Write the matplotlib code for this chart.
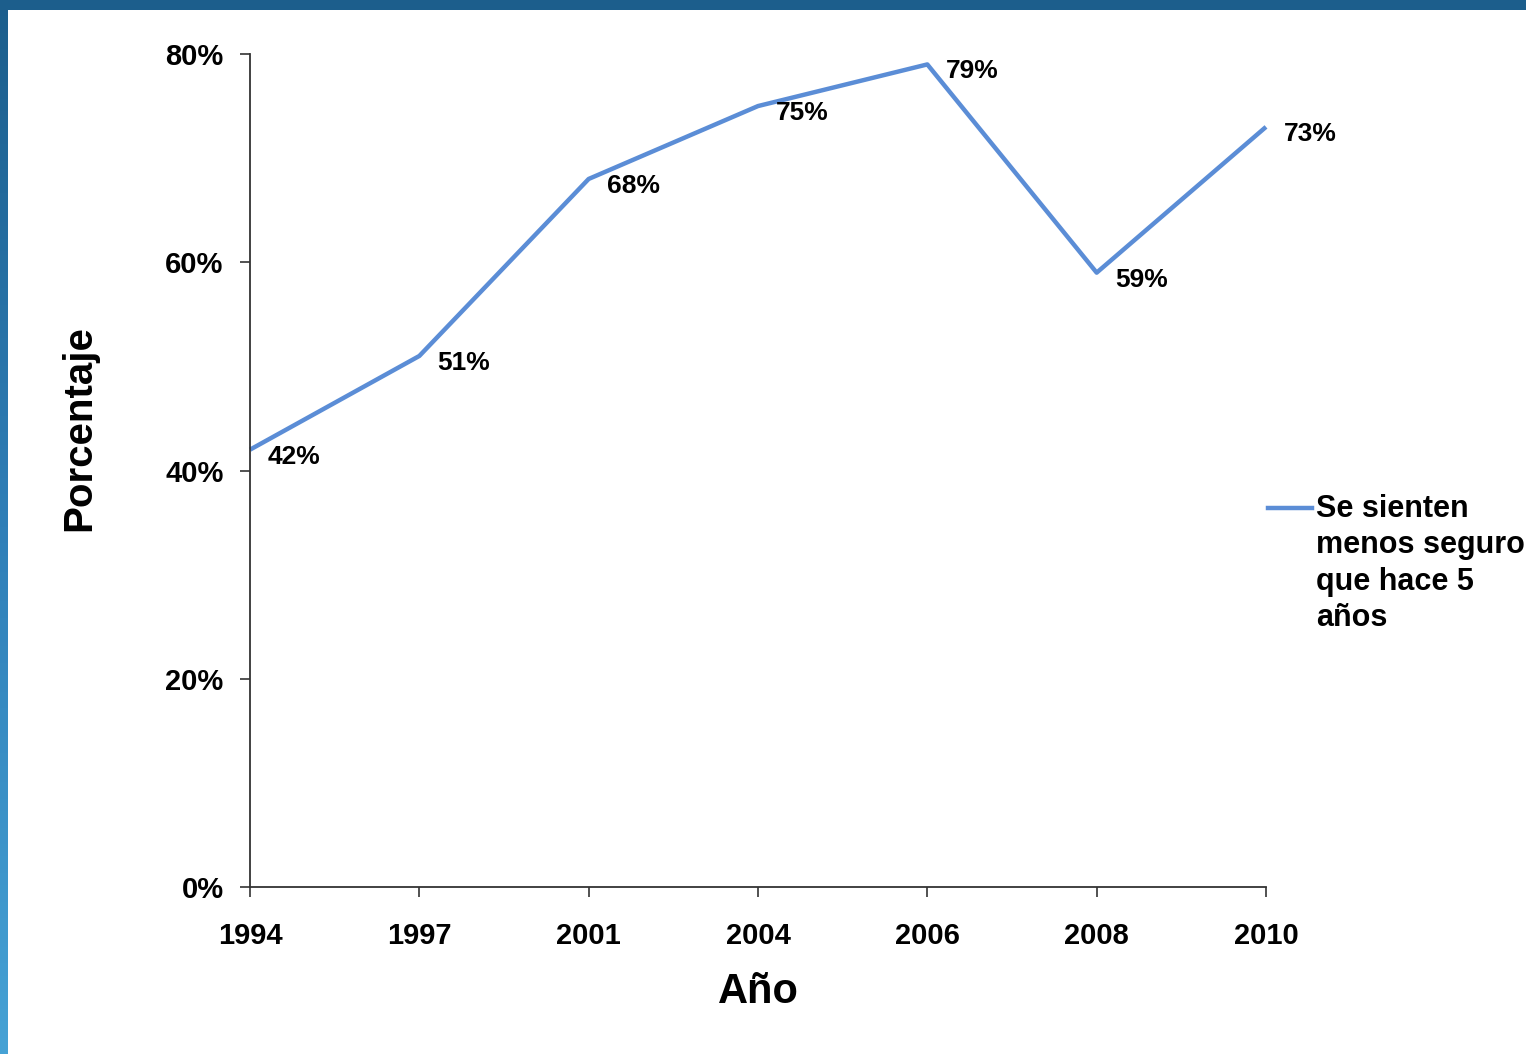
import matplotlib
matplotlib.use("Agg")
import matplotlib.pyplot as plt
import numpy as np
from matplotlib.colors import LinearSegmentedColormap
from matplotlib.ticker import PercentFormatter
from matplotlib.lines import Line2D

years = ["1994", "1997", "2001", "2004", "2006", "2008", "2010"]
values = [0.42, 0.51, 0.68, 0.75, 0.79, 0.59, 0.73]
labels = ["42%", "51%", "68%", "75%", "79%", "59%", "73%"]
series_name = "Se sienten\nmenos seguros\nque hace 5\naños"

plt.rcParams['font.family'] = ['Liberation Sans', 'DejaVu Sans']
plt.rcParams['font.weight'] = 'bold'

fig = plt.figure(figsize=(15.26, 10.54), dpi=100)
fig.patch.set_facecolor('white')

# slide frame: top band and left gradient stripe
top = fig.add_axes([0, 1 - 10 / 1054, 1, 10 / 1054])
top.set_facecolor('#1c5e8c')
top.set_xticks([]); top.set_yticks([])
for s in top.spines.values():
    s.set_visible(False)

left = fig.add_axes([0, 0, 8 / 1526, 1])
grad = np.linspace(0, 1, 256).reshape(-1, 1)
cm = LinearSegmentedColormap.from_list('frame', ['#1c5e8c', '#2f7fb8', '#46a2d5'])
left.imshow(grad, aspect='auto', cmap=cm, origin='upper')
left.axis('off')

ax = fig.add_axes([250 / 1526, 1 - 887 / 1054, (1266 - 250) / 1526, (887 - 54) / 1054])
x = np.arange(len(years))
line, = ax.plot(x, values, color='#5b8dd6', lw=3.2, solid_capstyle='butt',
                label=series_name, clip_on=False)

for xi, v, lab in zip(x, values, labels):
    ax.annotate(lab, (xi, v), xytext=(13, -5), textcoords='offset points',
                ha='left', va='center', fontsize=19, fontweight='bold')

ax.set_xlim(0, len(years) - 1)
ax.set_ylim(0, 0.8)
ax.set_xticks(x)
ax.set_xticklabels(years)
ax.set_yticks([0, 0.2, 0.4, 0.6, 0.8])
ax.yaxis.set_major_formatter(PercentFormatter(1.0, decimals=0))
ax.tick_params(axis='both', direction='out', length=7, width=1.2, color='#333333',
               labelsize=21)
ax.tick_params(axis='x', pad=18)
ax.tick_params(axis='y', pad=12)
for lab in ax.get_xticklabels() + ax.get_yticklabels():
    lab.set_fontweight('bold')
ax.spines['top'].set_visible(False)
ax.spines['right'].set_visible(False)
for side in ('left', 'bottom'):
    ax.spines[side].set_color('#333333')
    ax.spines[side].set_linewidth(1.3)

ax.set_xlabel("Año", fontsize=30, fontweight='bold', labelpad=16)
ax.set_ylabel("Porcentaje", fontsize=29, fontweight='bold')
ax.yaxis.set_label_coords(-0.149, 0.551)

# legend: handle aligned with the first line of the label
fig.lines.append(Line2D([1268 / 1526, 1312 / 1526], [1 - 508 / 1054] * 2,
                        transform=fig.transFigure, color=line.get_color(), lw=3.2))
fig.text(1316 / 1526, 1 - 494 / 1054, series_name, ha='left', va='top',
         fontsize=22, fontweight='bold', linespacing=1.28)

fig.savefig("out.png", dpi=100, facecolor='white')
